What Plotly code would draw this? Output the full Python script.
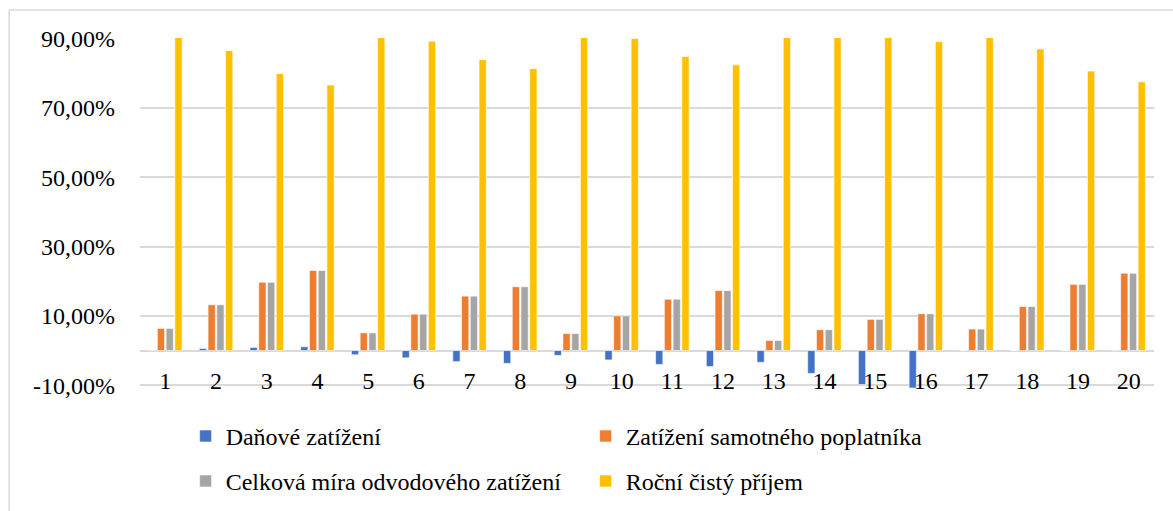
import plotly.graph_objects as go

categories = [str(i) for i in range(1, 21)]

danove_zatizeni = [0.1, 0.6, 0.9, 1.1, -1.2, -2.1, -3.2, -3.7, -1.4, -2.7,
                   -4.0, -4.6, -3.4, -6.6, -9.8, -10.8, 0.0, 0.0, 0.0, 0.1]
zatizeni_poplatnika = [6.4, 13.2, 19.7, 23.1, 5.1, 10.5, 15.7, 18.4, 4.9, 10.0,
                       14.8, 17.3, 2.9, 6.0, 9.0, 10.6, 6.2, 12.7, 19.1, 22.3]
celkova_mira = [6.4, 13.2, 19.7, 23.1, 5.1, 10.5, 15.7, 18.4, 4.9, 10.0,
                14.8, 17.3, 2.9, 6.0, 9.0, 10.6, 6.2, 12.7, 19.1, 22.3]
rocni_prijem = [93.6, 86.5, 79.9, 76.6, 94.9, 89.2, 83.9, 81.3, 95.1, 90.0,
                84.8, 82.4, 97.1, 94.0, 91.0, 89.1, 93.8, 87.0, 80.6, 77.5]

tick_vals = [-10, 10, 30, 50, 70, 90]
tick_text = ["-10,00%", "10,00%", "30,00%", "50,00%", "70,00%", "90,00%"]

# (name, values, colour, legend row)
series = [
    ("Daňové zatížení", danove_zatizeni, "#4472C4", "legend"),
    ("Zatížení samotného poplatníka", zatizeni_poplatnika, "#ED7D31", "legend"),
    ("Celková míra odvodového zatížení", celkova_mira, "#A5A5A5", "legend2"),
    ("Roční čistý příjem", rocni_prijem, "#FFC000", "legend2"),
]

fig = go.Figure()
for name, vals, color, leg in series:
    fig.add_trace(go.Bar(x=categories, y=vals, name=name, marker_color=color,
                         marker_line=dict(color="white", width=0.6),
                         legend=leg))

font = "Liberation Serif"
grid = "#d9d9d9"
leg_common = dict(orientation="h", x=0.045, xanchor="left", yanchor="middle",
                  yref="container",
                  entrywidth=355, entrywidthmode="pixels", itemwidth=30,
                  font=dict(family=font, size=24), traceorder="normal",
                  bgcolor="rgba(0,0,0,0)")

fig.update_layout(
    width=1173, height=511,
    barmode="group", bargap=0.31, bargroupgap=0.17,
    plot_bgcolor="white", paper_bgcolor="white",
    font=dict(family=font, size=24, color="black"),
    margin=dict(l=140, r=19, t=38, b=123, autoexpand=False),
    showlegend=True,
    legend=dict(y=0.146, **leg_common),
    legend2=dict(y=0.058, **leg_common),
    shapes=[
        # chart frame
        dict(type="rect", xref="paper", yref="paper",
             x0=-0.129, x1=1.05, y0=-0.5, y1=1.08,
             line=dict(color=grid, width=1.5), layer="below"),
        # bottom gridline (plotly drops it next to the free x axis)
        dict(type="line", xref="paper", yref="y", x0=0, x1=1,
             y0=tick_vals[0], y1=tick_vals[0],
             line=dict(color=grid, width=1.5), layer="below"),
    ],
)
fig.update_xaxes(
    showgrid=False, showline=False, ticks="",
    anchor="free", position=0.069, automargin=False,
    tickfont=dict(family=font, size=24),
)
fig.update_yaxes(
    range=[-10.8, 90.15], tickvals=tick_vals, ticktext=tick_text,
    showgrid=True, gridcolor=grid, gridwidth=1.5,
    zeroline=True, zerolinecolor=grid, zerolinewidth=2,
    showline=False, ticks="", ticklabelstandoff=24, automargin=False,
    tickfont=dict(family=font, size=24),
)

fig.write_html("out.html", post_script="document.body.style.margin='0';",
               config={"displayModeBar": False})
